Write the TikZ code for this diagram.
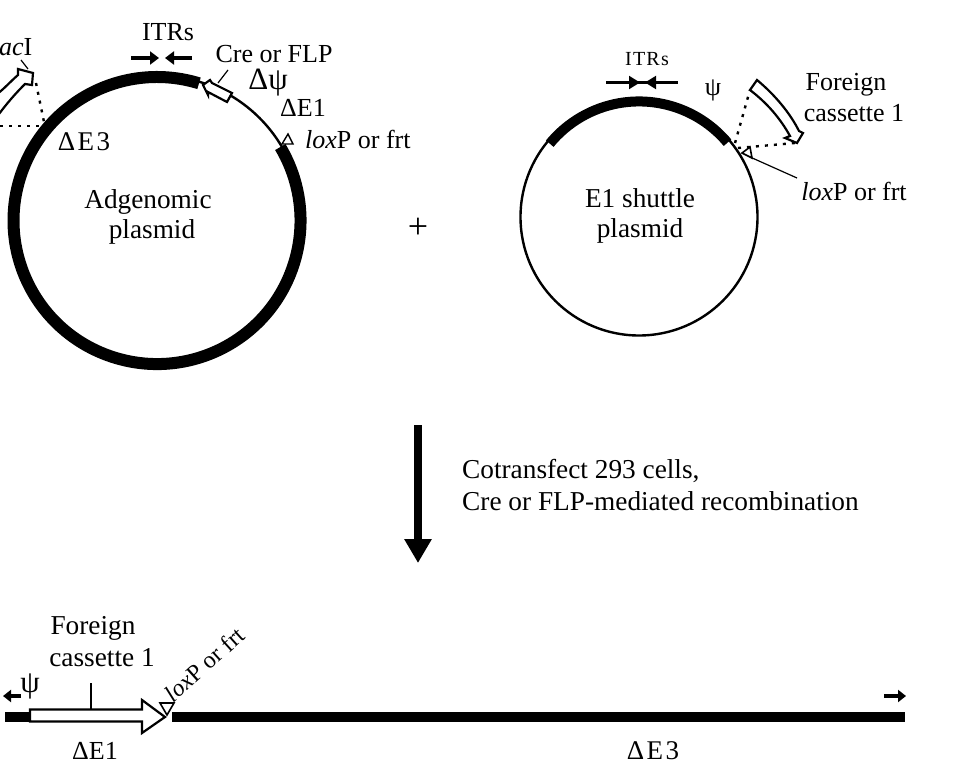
\documentclass[tikz,border=0pt]{standalone}
\usepackage{fontspec}
\setmainfont{Liberation Serif}
\usetikzlibrary{arrows.meta}
\tikzset{
 lab/.style={inner sep=0pt,font=\fontsize{26}{30}\selectfont},
 biglab/.style={inner sep=0pt,font=\fontsize{27.3}{30}\selectfont},
 spaced/.style={inner sep=0pt,font=\fontsize{27}{30}\selectfont\addfontfeature{LetterSpace=9}},
 smalllab/.style={inner sep=0pt,font=\fontsize{20}{22}\selectfont\addfontfeature{LetterSpace=6}},
 thin ring/.style={draw=black,line width=2.4pt},
 thick ring/.style={draw=black,line width=12pt},
 dots/.style={draw=black,line width=2.4pt,dash pattern=on 3pt off 6pt},
 whitearrow/.style={draw=black,fill=white,line width=2.2pt,line join=miter},
 tick/.style={draw=black,line width=1.2pt},
}
\begin{document}
\begin{tikzpicture}[x=1pt,y=-1pt]
\useasboundingbox (0,0) rectangle (966,770);
\fill[white] (0,0) rectangle (966,770);
% Left plasmid
\coordinate (LC) at (157,220.5);
\draw[thin ring] (LC) circle[radius=145pt];
\draw[thick ring,line cap=butt] (199,83.3) arc[start angle=73,end angle=390.8,radius=143.5pt];
% left foreign cassette (cut by the page edge)
\begin{scope}
\clip (0,0) rectangle (966,770);
\draw[dots] (36,83) -- (44,122);
\draw[dots] (0,126) -- (44,126);
\draw[whitearrow] (-4,95) .. controls (5,88) and (11,81) .. (18,75) -- (18,69) -- (33,73) -- (32,85) -- (25,84) .. controls (16,93) and (7,103) .. (-4,118);
\end{scope}
% Cre arrow
\draw[whitearrow] (203,85) -- (210,80) -- (212,83) -- (232,93) -- (227,102) -- (208,92) -- (208,95) -- cycle;
\node[lab] (cre) at (274,54) {Cre or FLP};
\draw[tick] (218,83) -- (228,70);
% lox triangle left
\draw[draw=black,fill=white,line width=1.4pt] (282,144) -- (288,134) -- (293,144) -- cycle;
% ITR arrows left
\coordinate (ia) at (131,58); \coordinate (ib) at (159,58);
\coordinate (ic) at (192,58); \coordinate (id) at (165,58);
\draw[line width=4.5pt,-{Triangle[length=9pt,width=13pt]}] (ia) -- (ib);
\draw[line width=4.5pt,-{Triangle[length=9pt,width=13pt]}] (ic) -- (id);
\node[lab] (itrl) at (168,32) {ITRs};
\node[lab,font=\fontsize{31}{34}\selectfont] (dpsi) at (268,83) {Δψ};
\node[lab] (de1) at (303,108) {ΔE1};
\node[lab,anchor=west] (lox1) at (305,139) {\textit{lox}P or frt};
\node[spaced] (de3) at (84,142) {ΔE3};
\node[biglab] (adg) at (148,202) {Adgenomic};
\node[biglab] (pl1) at (152,232) {plasmid};
\node[lab,anchor=west] (laci) at (-1,47) {\textit{ac}I};
\draw[tick] (21,60) -- (28,69);
\node[lab,font=\fontsize{36}{38}\selectfont] (plus) at (418,228) {+};
% Right plasmid
\coordinate (RC) at (639,217);
\draw[thin ring] (RC) circle[radius=118.5pt];
\draw[draw=black,line width=10pt] (727.5,142.7) arc[start angle=40,end angle=140.6,radius=115.5pt];
\draw[line width=2.4pt] (606,82.5) -- (678,82.5);
\draw[line width=2pt,-{Triangle[length=11pt,width=13pt]}] (625,82.5) -- (640,82.5);
\draw[line width=2pt,-{Triangle[length=11pt,width=13pt]}] (660,82.5) -- (645,82.5);
\node[smalllab] (itrr) at (647,59) {ITRs};
\node[lab] (psi) at (713,90) {ψ};
\draw[dots] (735,143) -- (750,90);
\draw[dots] (738,148) -- (795,143);
\draw[whitearrow] (750,90) -- (757,80) .. controls (775,95) and (790,113) .. (799,131) -- (803,133) -- (797,143) -- (785,138) -- (790,136) .. controls (780,118) and (767,103) .. (750,90) -- cycle;
\draw[draw=black,fill=white,line width=1.6pt] (742,153) -- (750,147) -- (752,158) -- cycle;
\coordinate (lr) at (797,178);
\draw[tick] (750,157) -- (lr);
\node[lab] (fc1) at (846,85) {Foreign};
\node[lab] (fc2) at (854,113) {cassette 1};
\node[lab] (lox2) at (854,191) {\textit{lox}P or frt};
\node[biglab] (e1) at (640,198) {E1 shuttle};
\node[biglab] (pl2) at (640,231) {plasmid};
% Main arrow
\coordinate (ma) at (418,425); \coordinate (mb) at (418,563);
\draw[line width=8pt,-{Triangle[length=24pt,width=26pt]}] (ma) -- (mb);
\node[biglab,anchor=west] (co1) at (462,471) {Cotransfect 293 cells,};
\node[biglab,anchor=west] (co2) at (462,501) {Cre or FLP-mediated recombination};
% Bottom
\fill (5,712) rectangle (30,722);
\fill (172,712) rectangle (905,722);
\draw[whitearrow] (30,709.5) -- (142,709.5) -- (142,700) -- (165,717) -- (142,733) -- (142,721.5) -- (30,721.5) -- cycle;
\draw[draw=black,fill=white,line width=1.6pt] (160,703) -- (174,703) -- (167,715) -- cycle;
\draw[tick] (91,683) -- (91,709);
\coordinate (sa) at (21,696); \coordinate (sb) at (3,696);
\coordinate (sc) at (884,696); \coordinate (sd) at (906,696);
\draw[line width=3.5pt,-{Triangle[length=8pt,width=12pt]}] (sa) -- (sb);
\draw[line width=3.5pt,-{Triangle[length=8pt,width=12pt]}] (sc) -- (sd);
\node[lab,font=\fontsize{31}{34}\selectfont] (psib) at (30,686) {ψ};
\node[biglab] (fb1) at (93,628) {Foreign};
\node[biglab] (fb2) at (102,658) {cassette 1};
\node[lab,rotate=42,anchor=west,font=\fontsize{24}{28}\selectfont] (loxb) at (168,697) {\textit{lox}P or frt};
\node[lab] (de1b) at (95,751) {ΔE1};
\node[spaced] (de3b) at (653,751) {ΔE3};
\end{tikzpicture}
\end{document}
